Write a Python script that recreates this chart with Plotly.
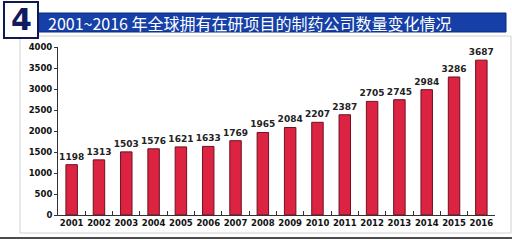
import plotly.graph_objects as go

years = ["2001","2002","2003","2004","2005","2006","2007","2008","2009","2010","2011","2012","2013","2014","2015","2016"]
counts = [1198,1313,1503,1576,1621,1633,1769,1965,2084,2207,2387,2705,2745,2984,3286,3687]
title_text = "2001~2016 年全球拥有在研项目的制药公司数量变化情况"
y_ticks = [0,500,1000,1500,2000,2500,3000,3500,4000]

W, H = 512, 240
L, R, T, B = 58, 17, 47, 25

fig = go.Figure(go.Bar(
    x=years, y=counts, width=0.42,
    marker=dict(color="#dc2342", line=dict(color="#6e1020", width=1)),
    text=[str(c) for c in counts], textposition="outside", cliponaxis=False,
    constraintext="none",
    textfont=dict(family="DejaVu Sans", size=9, color="#222", weight="bold"),
))

def px(x): return (x - L) / (W - L - R)
def py(y): return (H - B - y) / (H - T - B)

shapes = [
    dict(type="rect", xref="paper", yref="paper", x0=px(20), x1=px(511), y0=py(233), y1=py(36),
         line=dict(color="#d0d0d0", width=1), fillcolor="rgba(0,0,0,0)", layer="below"),
    dict(type="line", xref="paper", yref="paper", x0=px(0), x1=px(512), y0=py(238), y1=py(238),
         line=dict(color="#111", width=1.5)),
    dict(type="rect", xref="paper", yref="paper", x0=px(38), x1=px(506), y0=py(32), y1=py(13),
         line=dict(color="#0a2a7a", width=1), fillcolor="#1640a8"),
    dict(type="rect", xref="paper", yref="paper", x0=px(4), x1=px(38), y0=py(38), y1=py(2),
         line=dict(color="#101a50", width=2), fillcolor="white"),
]
annotations = [
    dict(text=title_text, xref="paper", yref="paper", x=px(46), y=py(22.5), xanchor="left", yanchor="middle",
         showarrow=False, font=dict(family="Noto Sans CJK SC", size=16, color="white")),
    dict(text="4", xref="paper", yref="paper", x=px(21), y=py(20), xanchor="center", yanchor="middle",
         showarrow=False, font=dict(family="DejaVu Sans", size=30, color="#101a60", weight="bold")),
]

fig.update_layout(
    width=W, height=H, margin=dict(l=L, r=R, t=T, b=B, autoexpand=False),
    paper_bgcolor="white", plot_bgcolor="white", showlegend=False,
    shapes=shapes, annotations=annotations,
    xaxis=dict(type="category", showline=True, linecolor="#333", linewidth=1, automargin=False,
               ticks="inside", tickson="boundaries", ticklen=4, tickcolor="#333", tickangle=0,
               tickfont=dict(family="DejaVu Sans", size=8.5, color="#111", weight="bold"),
               range=[-0.5, 15.5], showgrid=False),
    yaxis=dict(range=[0, 4000], tickvals=y_ticks, showline=True, linecolor="#333", linewidth=1,
               ticks="outside", ticklen=3, tickcolor="#333", showgrid=False, zeroline=False, automargin=False,
               tickfont=dict(family="DejaVu Sans", size=8.5, color="#111", weight="bold")),
)
fig.write_html("out.html")
